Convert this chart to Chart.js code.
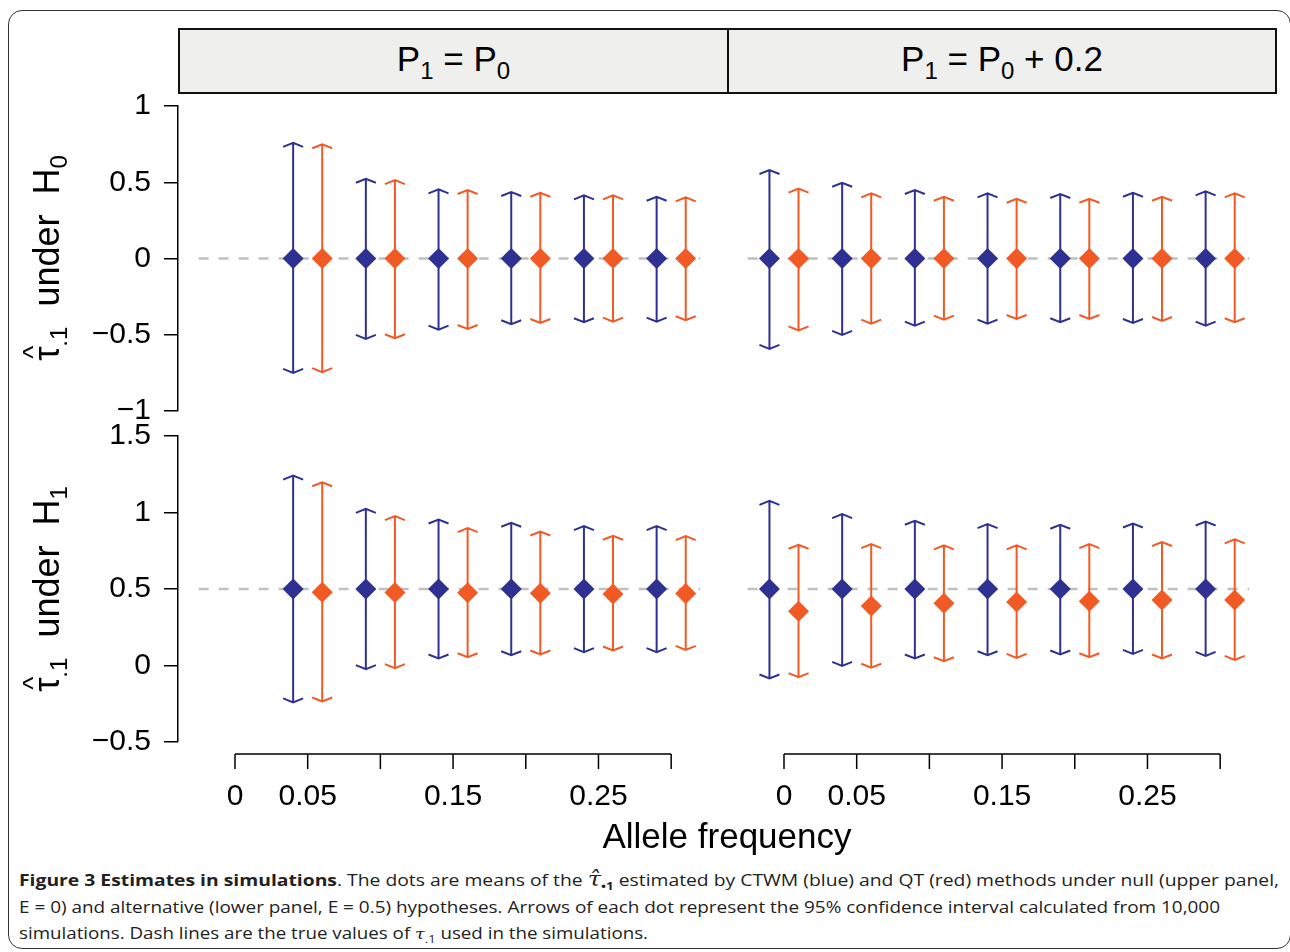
<!DOCTYPE html>
<html>
<head>
<meta charset="utf-8">
<script src="https://cdn.jsdelivr.net/npm/chart.js@4.4.1/dist/chart.umd.min.js"></script>
<style>
  html, body { margin: 0; padding: 0; background: #fff; }
  body { width: 1290px; height: 952px; position: relative; overflow: hidden; font-family: "Liberation Sans", Arial, Helvetica, sans-serif; color: #000; }
  .frame { position: absolute; left: 8px; top: 10px; width: 1283px; height: 939px; box-sizing: border-box; border: 1.5px solid #333; border-radius: 14px; }
  .strip { position: absolute; top: 28px; height: 66px; box-sizing: border-box; background: #efefed; border: 2px solid #111; text-align: center; font-size: 35px; line-height: 58px; white-space: nowrap; }
  .strip .s { font-size: 24px; position: relative; top: 8px; }
  canvas { position: absolute; }
  .ytitle { position: absolute; width: 320px; height: 44px; line-height: 44px; text-align: center; font-size: 36px; transform: rotate(-90deg); white-space: nowrap; }
  .ytitle .s { font-size: 24px; position: relative; top: 8px; }
  .ytitle .tau { position: relative; display: inline-block; }
  .ytitle .tau .hat { position: absolute; left: 2px; top: -14px; font-size: 28px; }
  .xtitle { position: absolute; left: 427px; width: 600px; top: 814px; text-align: center; font-size: 35px; line-height: 44px; }
  .caption { position: absolute; left: 19px; top: 867px; font-family: "Open Sans", "Noto Sans", sans-serif; font-size: 16px; color: #222; }
  .caption .ln { display: block; height: 26.5px; line-height: 26.5px; white-space: nowrap; transform-origin: 0 50%; width: max-content; }
  .caption .m { font-family: "DejaVu Serif", serif; font-style: italic; font-size: 20px; line-height: 10px; }
  .caption .m2 { font-family: "DejaVu Serif", serif; font-style: italic; font-size: 15px; line-height: 10px; }
  .caption sub { font-size: 11px; line-height: 10px; }
</style>
</head>
<body>
<div class="frame"></div>

<div class="strip" style="left:178px; width:551px;">P<span class="s">1</span> = P<span class="s">0</span></div>
<div class="strip" style="left:727px; width:550px;">P<span class="s">1</span> = P<span class="s">0</span> + 0.2</div>

<canvas id="panelH0a" width="667" height="331" style="left:60px; top:93px;"></canvas>
<canvas id="panelH0b" width="549" height="331" style="left:727px; top:93px;"></canvas>
<canvas id="panelH1a" width="667" height="400" style="left:60px; top:424px;"></canvas>
<canvas id="panelH1b" width="549" height="400" style="left:727px; top:424px;"></canvas>

<div class="ytitle" style="left:-113px; top:236px;"><span class="tau">τ<span class="hat">^</span></span><span class="s">.1</span>&nbsp; under&nbsp; H<span class="s">0</span></div>
<div class="ytitle" style="left:-113px; top:567px;"><span class="tau">τ<span class="hat">^</span></span><span class="s">.1</span>&nbsp; under&nbsp; H<span class="s">1</span></div>

<div class="xtitle">Allele frequency</div>

<div class="caption">
  <span class="ln" data-w="1260"><b>Figure 3 Estimates in simulations</b>. The dots are means of the <span class="m">τ̂</span><sub><b>•1</b></sub> estimated by CTWM (blue) and QT (red) methods under null (upper panel,</span>
  <span class="ln" data-w="1201">E = 0) and alternative (lower panel, E = 0.5) hypotheses. Arrows of each dot represent the 95% confidence interval calculated from 10,000</span>
  <span class="ln" data-w="629">simulations. Dash lines are the true values of <span class="m2">τ</span><sub>.1</sub> used in the simulations.</span>
</div>

<script>
// allele frequencies (left panels start at 0.05, right panels at 0)
const freqLeft = [0.05, 0.10, 0.15, 0.20, 0.25, 0.30];
const freqRight = [0, 0.05, 0.10, 0.15, 0.20, 0.25, 0.30];

const xTicks = [0, 0.05, 0.10, 0.15, 0.20, 0.25, 0.30];
const xTickLabels = ['0', '0.05', '', '0.15', '', '0.25', ''];
const yTicksH0 = [-1, -0.5, 0, 0.5, 1];
const yTicksH1 = [-0.5, 0, 0.5, 1, 1.5];

const trueH0 = 0;
const trueH1 = 0.5;

// under H0, P1 = P0
const ctwmH0aMean = [0, 0, 0, 0, 0, 0];
const ctwmH0aLow = [-0.750, -0.527, -0.466, -0.431, -0.418, -0.414];
const ctwmH0aHigh = [0.758, 0.523, 0.453, 0.436, 0.414, 0.405];
const qtH0aMean = [0, 0, 0, 0, 0, 0];
const qtH0aLow = [-0.745, -0.523, -0.462, -0.423, -0.414, -0.405];
const qtH0aHigh = [0.749, 0.514, 0.449, 0.431, 0.414, 0.401];

// under H0, P1 = P0 + 0.2
const ctwmH0bMean = [0, 0, 0, 0, 0, 0, 0];
const ctwmH0bLow = [-0.593, -0.501, -0.440, -0.427, -0.418, -0.423, -0.440];
const ctwmH0bHigh = [0.580, 0.497, 0.449, 0.427, 0.423, 0.431, 0.440];
const qtH0bMean = [0, 0, 0, 0, 0, 0, 0];
const qtH0bLow = [-0.471, -0.427, -0.401, -0.397, -0.397, -0.410, -0.418];
const qtH0bHigh = [0.458, 0.427, 0.405, 0.392, 0.392, 0.405, 0.427];

// under H1, P1 = P0
const ctwmH1aMean = [0.5, 0.5, 0.5, 0.5, 0.5, 0.5];
const ctwmH1aLow = [-0.241, -0.024, 0.046, 0.067, 0.087, 0.087];
const ctwmH1aHigh = [1.241, 1.024, 0.954, 0.933, 0.911, 0.911];
const qtH1aMean = [0.478, 0.477, 0.476, 0.473, 0.468, 0.471];
const qtH1aLow = [-0.235, -0.017, 0.054, 0.072, 0.098, 0.102];
const qtH1aHigh = [1.198, 0.976, 0.898, 0.876, 0.848, 0.846];

// under H1, P1 = P0 + 0.2
const ctwmH1bMean = [0.5, 0.5, 0.5, 0.5, 0.5, 0.5, 0.5];
const ctwmH1bLow = [-0.085, -0.002, 0.046, 0.067, 0.072, 0.076, 0.063];
const ctwmH1bHigh = [1.076, 0.989, 0.946, 0.924, 0.920, 0.928, 0.941];
const qtH1bMean = [0.354, 0.389, 0.407, 0.415, 0.420, 0.428, 0.428];
const qtH1bLow = [-0.076, -0.015, 0.028, 0.050, 0.054, 0.046, 0.037];
const qtH1bHigh = [0.789, 0.793, 0.785, 0.785, 0.793, 0.807, 0.824];

const BLUE = '#2e3192';
const RED = '#f15a24';
const xMin = -0.0392, xMax = 0.3384;
const dodge = 0.01;
const refFrom = -0.025, refTo = 0.32;

Chart.defaults.font.family = '"Liberation Sans", Arial, Helvetica, sans-serif';
Chart.defaults.color = '#000';

function yTickLabel(v) {
    return (v < 0 ? '\u2212' : '') + Math.abs(v);
}

// vertical error bars with flat arrow heads, drawn under the diamonds
const errorBarPlugin = {
    id: 'errorBars',
    beforeDatasetDraw(chart, args) {
        const ds = chart.data.datasets[args.index];
        if (!ds.low) return;
        const { ctx, scales: { x, y } } = chart;
        ctx.save();
        ctx.strokeStyle = ds.backgroundColor;
        ctx.lineWidth = 2;
        ds.data.forEach((p, i) => {
            const px = x.getPixelForValue(p.x);
            const top = y.getPixelForValue(ds.high[i]);
            const bot = y.getPixelForValue(ds.low[i]);
            ctx.beginPath();
            ctx.moveTo(px, top); ctx.lineTo(px, bot);
            ctx.moveTo(px - 10, top + 4); ctx.lineTo(px, top); ctx.lineTo(px + 10, top + 4);
            ctx.moveTo(px - 10, bot - 4); ctx.lineTo(px, bot); ctx.lineTo(px + 10, bot - 4);
            ctx.stroke();
        });
        ctx.restore();
    }
};

// R style x axis: line only between first and last tick, detached from the panel
const rAxisPlugin = {
    id: 'rAxis',
    afterDraw(chart, args, opts) {
        if (!opts.show) return;
        const { ctx, chartArea, scales: { x } } = chart;
        const y0 = chartArea.bottom + 12;
        ctx.save();
        ctx.strokeStyle = '#000';
        ctx.lineWidth = 1.5;
        ctx.beginPath();
        ctx.moveTo(x.getPixelForValue(xTicks[0]), y0);
        ctx.lineTo(x.getPixelForValue(xTicks[xTicks.length - 1]), y0);
        xTicks.forEach(v => {
            const px = x.getPixelForValue(v);
            ctx.moveTo(px, y0);
            ctx.lineTo(px, y0 + 15);
        });
        ctx.stroke();
        ctx.restore();
    }
};

function createPanel(id, cfg) {
    const canvas = document.getElementById(id);
    const ctx = canvas.getContext('2d');

    return new Chart(ctx, {
        type: 'scatter',
        data: {
            datasets: [
                {
                    type: 'line',
                    data: [{ x: refFrom, y: cfg.trueVal }, { x: refTo, y: cfg.trueVal }],
                    borderColor: '#c0c0c0',
                    borderWidth: 2.5,
                    borderDash: [10, 10],
                    pointRadius: 0,
                    order: 3
                },
                {
                    label: 'CTWM',
                    data: cfg.freq.map((f, i) => ({ x: f - dodge, y: cfg.blue.mean[i] })),
                    low: cfg.blue.low,
                    high: cfg.blue.high,
                    backgroundColor: BLUE,
                    borderWidth: 0,
                    pointStyle: 'rectRot',
                    pointRadius: 10.5,
                    order: 1
                },
                {
                    label: 'QT',
                    data: cfg.freq.map((f, i) => ({ x: f + dodge, y: cfg.red.mean[i] })),
                    low: cfg.red.low,
                    high: cfg.red.high,
                    backgroundColor: RED,
                    borderWidth: 0,
                    pointStyle: 'rectRot',
                    pointRadius: 10.5,
                    order: 1
                }
            ]
        },
        options: {
            responsive: false,
            animation: false,
            events: [],
            layout: {
                autoPadding: false,
                padding: { top: cfg.padTop, bottom: cfg.padBottom, left: 0, right: 0 }
            },
            plugins: {
                legend: { display: false },
                tooltip: { enabled: false },
                rAxis: { show: cfg.showX }
            },
            scales: {
                x: {
                    type: 'linear',
                    min: xMin,
                    max: xMax,
                    display: cfg.showX,
                    afterBuildTicks: a => { a.ticks = xTicks.map(v => ({ value: v })); },
                    afterFit: s => {
                        s.height = cfg.showX ? 82 : 0;
                        s.paddingLeft = 0; s.paddingRight = 0;
                    },
                    grid: { display: false },
                    border: { display: false },
                    ticks: {
                        autoSkip: false,
                        maxRotation: 0,
                        padding: 29,
                        font: { size: 30 },
                        color: '#000',
                        callback: (v, i) => xTickLabels[i]
                    }
                },
                y: {
                    type: 'linear',
                    min: cfg.yTicks[0],
                    max: cfg.yTicks[cfg.yTicks.length - 1],
                    display: cfg.showY,
                    afterBuildTicks: a => { a.ticks = cfg.yTicks.map(v => ({ value: v })); },
                    afterFit: s => {
                        s.width = cfg.showY ? 118 : 0;
                        s.paddingTop = 0; s.paddingBottom = 0;
                    },
                    grid: { drawOnChartArea: false, drawTicks: true, tickLength: 14, color: '#000', lineWidth: 1.5 },
                    border: { display: true, color: '#000', width: 1.5 },
                    ticks: {
                        padding: 13,
                        font: { size: 30 },
                        color: '#000',
                        callback: v => yTickLabel(v)
                    }
                }
            }
        },
        plugins: [errorBarPlugin, rAxisPlugin]
    });
}

createPanel('panelH0a', {
    freq: freqLeft, trueVal: trueH0, yTicks: yTicksH0, showY: true, showX: false, padTop: 13, padBottom: 13,
    blue: { mean: ctwmH0aMean, low: ctwmH0aLow, high: ctwmH0aHigh },
    red: { mean: qtH0aMean, low: qtH0aLow, high: qtH0aHigh }
});
createPanel('panelH0b', {
    freq: freqRight, trueVal: trueH0, yTicks: yTicksH0, showY: false, showX: false, padTop: 13, padBottom: 13,
    blue: { mean: ctwmH0bMean, low: ctwmH0bLow, high: ctwmH0bHigh },
    red: { mean: qtH0bMean, low: qtH0bLow, high: qtH0bHigh }
});
createPanel('panelH1a', {
    freq: freqLeft, trueVal: trueH1, yTicks: yTicksH1, showY: true, showX: true, padTop: 12, padBottom: 0,
    blue: { mean: ctwmH1aMean, low: ctwmH1aLow, high: ctwmH1aHigh },
    red: { mean: qtH1aMean, low: qtH1aLow, high: qtH1aHigh }
});
createPanel('panelH1b', {
    freq: freqRight, trueVal: trueH1, yTicks: yTicksH1, showY: false, showX: true, padTop: 12, padBottom: 0,
    blue: { mean: ctwmH1bMean, low: ctwmH1bLow, high: ctwmH1bHigh },
    red: { mean: qtH1bMean, low: qtH1bLow, high: qtH1bHigh }
});

// stretch each caption line to the width it has in the figure
function fitCaption() {
    document.querySelectorAll('.caption .ln').forEach(el => {
        el.style.transform = '';
        const w = el.getBoundingClientRect().width;
        const target = +el.dataset.w;
        if (w > 0) el.style.transform = 'scaleX(' + (target / w) + ')';
    });
}
fitCaption();
if (document.fonts && document.fonts.ready) document.fonts.ready.then(fitCaption);
</script>
</body>
</html>
